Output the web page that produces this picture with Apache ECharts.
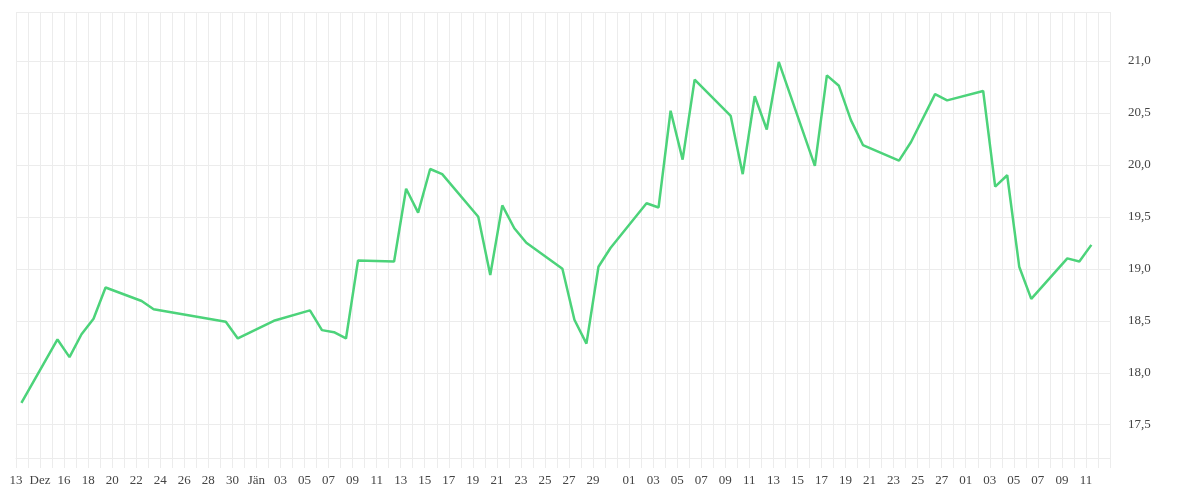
<!DOCTYPE html>
<html>
<head>
    <meta charset="utf-8">
    <title>Kursverlauf</title>
    <script src="https://cdn.jsdelivr.net/npm/echarts@6/dist/echarts.min.js"></script>
    <style>
        html, body { margin: 0; padding: 0; background: #fff; }
        #main { width: 1200px; height: 500px; }
    </style>
</head>
<body>
    <div id="main"></div>
    <script>
        // Tagesindex (0 = 13. Dez) und Kurs
        const days = [0, 3, 4, 5, 6, 7, 10, 11, 17, 18, 21, 24, 25, 26, 27, 28, 31, 32, 33, 34, 35,
            38, 39, 40, 41, 42, 45, 46, 47, 48, 49, 52, 53, 54, 55, 56, 59, 60, 61, 62, 63,
            66, 67, 68, 69, 70, 73, 74, 76, 77, 80, 81, 82, 83, 84, 87, 88, 89];
        const prices = [17.71, 18.32, 18.15, 18.37, 18.52, 18.82, 18.69, 18.61, 18.49, 18.33, 18.50, 18.60, 18.41, 18.39, 18.33, 19.08, 19.07, 19.77, 19.54, 19.96, 19.91,
            19.50, 18.94, 19.61, 19.39, 19.25, 19.00, 18.51, 18.28, 19.02, 19.20, 19.63, 19.59, 20.52, 20.05, 20.82, 20.47, 19.91, 20.66, 20.34, 20.99,
            19.99, 20.86, 20.76, 20.43, 20.19, 20.04, 20.22, 20.68, 20.62, 20.71, 19.79, 19.90, 19.02, 18.71, 19.10, 19.07, 19.23];

        // Beschriftung der Tagesraster (Index -> Text)
        const tickLabels = {
            0: '13', 2: 'Dez', 4: '16', 6: '18', 8: '20', 10: '22', 12: '24', 14: '26', 16: '28', 18: '30',
            20: 'Jän', 22: '03', 24: '05', 26: '07', 28: '09', 30: '11', 32: '13', 34: '15', 36: '17', 38: '19',
            40: '21', 42: '23', 44: '25', 46: '27', 48: '29',
            51: '01', 53: '03', 55: '05', 57: '07', 59: '09', 61: '11', 63: '13', 65: '15', 67: '17', 69: '19',
            71: '21', 73: '23', 75: '25', 77: '27',
            79: '01', 81: '03', 83: '05', 85: '07', 87: '09', 89: '11'
        };

        const chart = echarts.init(document.getElementById('main'));
        const gridColor = '#ececec';
        const font = "'Liberation Serif', 'DejaVu Serif', serif";

        chart.setOption({
            animation: false,
            grid: { left: 16, right: 90, top: 12, bottom: 42 },
            xAxis: {
                type: 'value',
                min: 0,
                max: 91,
                interval: 1,
                axisLine: { lineStyle: { color: gridColor } },
                axisTick: { length: 10, lineStyle: { color: gridColor } },
                splitLine: { show: true, lineStyle: { color: gridColor } },
                axisLabel: {
                    margin: 16,
                    color: '#444',
                    fontFamily: font,
                    fontSize: 13,
                    formatter: v => tickLabels[v] || ''
                }
            },
            yAxis: {
                type: 'value',
                position: 'right',
                min: 17.18,
                max: 21.47,
                splitNumber: 8,
                axisLine: { show: false },
                axisTick: { show: false },
                splitLine: { lineStyle: { color: gridColor } },
                axisLabel: {
                    showMinLabel: false,
                    showMaxLabel: false,
                    margin: 18,
                    color: '#444',
                    fontFamily: font,
                    fontSize: 13,
                    formatter: v => v.toFixed(1).replace('.', ',')
                }
            },
            series: [{
                type: 'line',
                data: days.map((d, i) => [d + 0.45, prices[i]]),
                showSymbol: false,
                lineStyle: { color: '#4cd37a', width: 2.5 },
                itemStyle: { color: '#4cd37a' }
            }]
        });
    </script>
</body>
</html>
